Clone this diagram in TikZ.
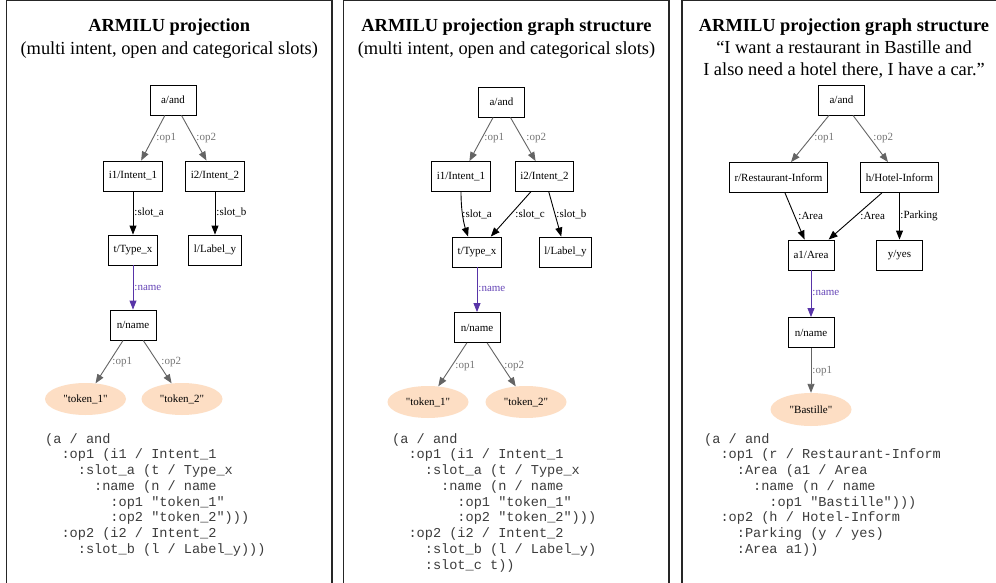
\documentclass[tikz,border=0pt]{standalone}
\usepackage{fontspec}
\setmainfont{Liberation Serif}
\setmonofont{Liberation Mono}
\usetikzlibrary{arrows.meta,shapes.geometric}
\definecolor{peach}{RGB}{253,222,196}
\definecolor{edgegray}{RGB}{100,100,100}
\definecolor{labgray}{RGB}{118,118,118}
\definecolor{purp}{RGB}{88,52,168}
\definecolor{purplab}{RGB}{104,72,184}
\definecolor{codegray}{RGB}{60,60,60}
\newcommand{\dq}{\textquotedbl}
\begin{document}
\begin{tikzpicture}[x=1pt,y=-1pt,
  box/.style={draw=black, line width=0.9pt, fill=white, minimum height=30pt, minimum width=46pt, inner xsep=5pt, inner ysep=0pt, font=\fontsize{11}{13}\selectfont},
  tok/.style={ellipse, fill=peach, minimum width=81pt, minimum height=32pt, inner sep=0pt, font=\fontsize{11}{13}\selectfont},
  tip/.style={-{Triangle[length=9pt,width=7pt]}},
  ge/.style={draw=edgegray, line width=0.9pt, tip},
  be/.style={draw=black, line width=0.9pt, tip},
  pe/.style={draw=purp, line width=0.9pt, tip},
  el/.style={font=\fontsize{11}{13}\selectfont, anchor=west, inner sep=0pt},
  gl/.style={el, text=labgray},
  bl/.style={el, text=black},
  pl/.style={el, text=purplab},
  codeline/.style={font=\fontsize{13.6}{15.75}\ttfamily, text=codegray, anchor=base west, inner sep=0pt},
  ttl/.style={font=\bfseries\fontsize{18.4}{22}\selectfont, anchor=base, inner sep=0pt},
  sub/.style={font=\fontsize{18.4}{22}\selectfont, anchor=base, inner sep=0pt},
  panel/.style={draw=black!85, line width=1.5pt}]
\clip (0,0) rectangle (996,583);
\fill[white] (0,0) rectangle (996,583);
% panels
\draw[panel] (6.5,0.75) rectangle (332,600);
\draw[panel] (343.5,0.75) rectangle (669,600);
\draw[panel] (682,0.75) rectangle (1010,600);

% ---------------- left panel ----------------
\node[ttl] (t1) at (169.25,32) {ARMILU projection};
\node[sub] (s1) at (169.25,55) {(multi intent, open and categorical slots)};
\node[box] (A1) at (173,100) {a/and};
\node[box] (I11) at (133,176) {i1/Intent\_1};
\node[box] (I21) at (215,176) {i2/Intent\_2};
\node[box] (T1) at (133,250) {t/Type\_x};
\node[box] (L1) at (215,250) {l/Label\_y};
\node[box] (N1) at (133,325) {n/name};
\node[tok] (K11) at (85.5,399) {\dq token\_1\dq};
\node[tok] (K21) at (182,399) {\dq token\_2\dq};
\draw[ge] (A1) -- (I11) node[gl, at={(156,138)}] (e1) {:op1};
\draw[ge] (A1) -- (I21) node[gl, at={(196,138)}] (e2) {:op2};
\draw[be] (I11) -- (T1) node[bl, at={(134,212)}] (e3) {:slot\_a};
\draw[be] (I21) -- (L1) node[bl, at={(216,212)}] (e4) {:slot\_b};
\draw[pe] (T1) -- (N1) node[pl, at={(134,288)}] (e5) {:name};
\draw[ge] (N1) -- (K11) node[gl, at={(112,362)}] (e6) {:op1};
\draw[ge] (N1) -- (K21) node[gl, at={(161,362)}] (e7) {:op2};
\node[codeline] (lc1) at (45,443) {(a / and};
\node[codeline] (lc2) at (45,458.75) {~~:op1 (i1 / Intent\_1};
\node[codeline] (lc3) at (45,474.5) {~~~~:slot\_a (t / Type\_x};
\node[codeline] (lc4) at (45,490.25) {~~~~~~:name (n / name};
\node[codeline] (lc5) at (45,506) {~~~~~~~~:op1 \dq token\_1\dq};
\node[codeline] (lc6) at (45,521.75) {~~~~~~~~:op2 \dq token\_2\dq)))};
\node[codeline] (lc7) at (45,537.5) {~~:op2 (i2 / Intent\_2};
\node[codeline] (lc8) at (45,553.25) {~~~~:slot\_b (l / Label\_y)))};

% ---------------- middle panel ----------------
\node[ttl] (t2) at (506.5,32) {ARMILU projection graph structure};
\node[sub] (s2) at (506.5,55) {(multi intent, open and categorical slots)};
\node[box] (A2) at (501.5,102) {a/and};
\node[box] (I12) at (461,176.5) {i1/Intent\_1};
\node[box] (I22) at (544.5,176.5) {i2/Intent\_2};
\node[box] (T2) at (477,252) {t/Type\_x};
\node[box] (L2) at (565.5,252) {l/Label\_y};
\node[box] (N2) at (477,327.5) {n/name};
\node[tok] (K12) at (428,402) {\dq token\_1\dq};
\node[tok] (K22) at (526,402) {\dq token\_2\dq};
\draw[ge] (A2) -- (I12) node[gl, at={(484,138)}] (f1) {:op1};
\draw[ge] (A2) -- (I22) node[gl, at={(526,138)}] (f2) {:op2};
\draw[be] (I12.south) .. controls +(0,20) and +(-4,-12) .. (T2.120) node[bl, at={(462,214)}] (f3) {:slot\_a};
\draw[be] (I22) -- (T2) node[bl, at={(515,214)}] (f4) {:slot\_c};
\draw[be] (I22) -- (L2) node[bl, at={(556,214)}] (f5) {:slot\_b};
\draw[pe] (T2) -- (N2) node[pl, at={(478,289)}] (f6) {:name};
\draw[ge] (N2) -- (K12) node[gl, at={(455,366)}] (f7) {:op1};
\draw[ge] (N2) -- (K22) node[gl, at={(504,366)}] (f8) {:op2};
\node[codeline] (mc1) at (392,443) {(a / and};
\node[codeline] (mc2) at (392,458.75) {~~:op1 (i1 / Intent\_1};
\node[codeline] (mc3) at (392,474.5) {~~~~:slot\_a (t / Type\_x};
\node[codeline] (mc4) at (392,490.25) {~~~~~~:name (n / name};
\node[codeline] (mc5) at (392,506) {~~~~~~~~:op1 \dq token\_1\dq};
\node[codeline] (mc6) at (392,521.75) {~~~~~~~~:op2 \dq token\_2\dq)))};
\node[codeline] (mc7) at (392,537.5) {~~:op2 (i2 / Intent\_2};
\node[codeline] (mc8) at (392,553.25) {~~~~:slot\_b (l / Label\_y)};
\node[codeline] (mc9) at (392,569) {~~~~:slot\_c t))};

% ---------------- right panel ----------------
\node[ttl] (t3) at (844,32) {ARMILU projection graph structure};
\node[sub] (s3) at (844,54) {“I want a restaurant in Bastille and};
\node[sub] (s4) at (844,76) {I also need a hotel there, I have a car.”};
\node[box] (A3) at (841.5,100) {a/and};
\node[box] (R3) at (778.5,177.5) {r/Restaurant-Inform};
\node[box] (H3) at (899.5,177.5) {h/Hotel-Inform};
\node[box] (AA3) at (811,255) {a1/Area};
\node[box] (Y3) at (899.5,255) {y/yes};
\node[box] (N3) at (811,332.5) {n/name};
\node[tok, minimum height=33pt] (B3) at (811,409.5) {\dq Bastille\dq};
\draw[ge] (A3) -- (R3) node[gl, at={(814,138)}] (g1) {:op1};
\draw[ge] (A3) -- (H3) node[gl, at={(873,138)}] (g2) {:op2};
\draw[be] (R3) -- (AA3) node[bl, at={(798,216)}] (g3) {:Area};
\draw[be] (H3) -- (AA3) node[bl, at={(860,216)}] (g4) {:Area};
\draw[be] (H3) -- (Y3) node[bl, at={(900,216)}] (g5) {:Parking};
\draw[pe] (AA3) -- (N3) node[pl, at={(812,293)}] (g6) {:name};
\draw[ge] (N3) -- (B3) node[gl, at={(812,371)}] (g7) {:op1};
\node[codeline] (rc1) at (704,443) {(a / and};
\node[codeline] (rc2) at (704,458.75) {~~:op1 (r / Restaurant-Inform};
\node[codeline] (rc3) at (704,474.5) {~~~~:Area (a1 / Area};
\node[codeline] (rc4) at (704,490.25) {~~~~~~:name (n / name};
\node[codeline] (rc5) at (704,506) {~~~~~~~~:op1 \dq Bastille\dq)))};
\node[codeline] (rc6) at (704,521.75) {~~:op2 (h / Hotel-Inform};
\node[codeline] (rc7) at (704,537.5) {~~~~:Parking (y / yes)};
\node[codeline] (rc8) at (704,553.25) {~~~~:Area a1))};
\end{tikzpicture}
\end{document}
